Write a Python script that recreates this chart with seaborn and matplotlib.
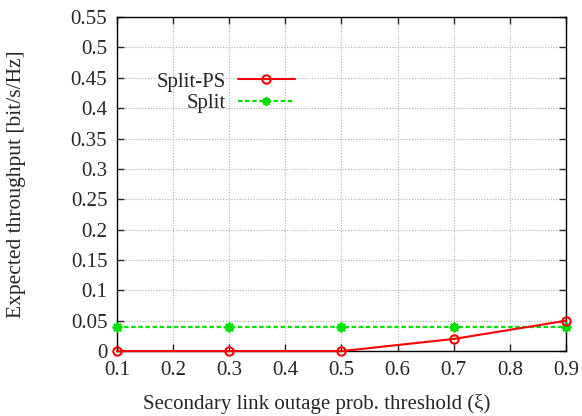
import numpy as np
import pandas as pd
import matplotlib
matplotlib.use("Agg")
import matplotlib.pyplot as plt
import seaborn as sns

xi = [0.1, 0.3, 0.5, 0.7, 0.9]
split_ps = [0.0, 0.0, 0.0, 0.02, 0.05]
split = [0.04, 0.04, 0.04, 0.04, 0.04]

sns.set_style("ticks")
plt.rcParams["font.family"] = ["Liberation Serif", "DejaVu Serif"]

df = pd.DataFrame({"xi": xi + xi, "thr": split_ps + split,
                   "scheme": ["Split-PS"] * len(xi) + ["Split"] * len(xi)})

fig = plt.figure(figsize=(5.82, 4.16), dpi=100)
ax = fig.add_axes([0.201, 0.156, 0.7715, 0.803])

sub = df[df.scheme == "Split-PS"]
sns.lineplot(data=sub, x="xi", y="thr", ax=ax, color="#ff0000", lw=1.5,
             marker="o", markersize=6, markerfacecolor="none",
             markeredgecolor="#ff0000", markeredgewidth=1.5, label="Split-PS",
             clip_on=False, zorder=5)
sub = df[df.scheme == "Split"]
sns.lineplot(data=sub, x="xi", y="thr", ax=ax, color="#00e000", lw=1.6,
             linestyle=(0, (2, 1.2)), marker=(8, 2, 0), markersize=7,
             markeredgecolor="#00e000", markeredgewidth=1.5, label="Split",
             clip_on=False, zorder=4)

ax.set_xlim(0.1, 0.9)
ax.set_ylim(0, 0.55)
ax.set_xticks(np.arange(0.1, 0.91, 0.1))
ax.set_xticklabels(["0.1", "0.2", "0.3", "0.4", "0.5", "0.6", "0.7", "0.8", "0.9"])
yt = np.arange(0, 0.551, 0.05)
ax.set_yticks(yt)
ax.set_yticklabels(["0", "0.05", "0.1", "0.15", "0.2", "0.25", "0.3", "0.35",
                    "0.4", "0.45", "0.5", "0.55"])
ax.tick_params(direction="in", length=5, labelsize=15, width=1,
               top=True, right=True, pad=7)
ax.grid(True, color="#b0b0b0", linestyle=(0, (1, 1.5)), lw=0.8)
for s in ax.spines.values():
    s.set_linewidth(1)
    s.set_color("black")

ax.set_xlabel("Secondary link outage prob. threshold (ξ)", fontsize=15, va="center")
ax.set_ylabel("Expected throughput [bit/s/Hz]", fontsize=15.5, va="center")
ax.xaxis.set_label_coords(0.445, -0.158)
ax.yaxis.set_label_coords(-0.223, 0.5)

leg = ax.legend(loc="upper left", bbox_to_anchor=(0.089, 0.835), frameon=False,
                markerfirst=False, fontsize=15, handlelength=2.75,
                handletextpad=0.55, borderaxespad=0, borderpad=0,
                labelspacing=0.1)
for t in leg.get_texts():
    t.set_ha("right")
for h in leg.legend_handles:
    h.set_markersize(6)

fig.savefig("out.png", dpi=100)
